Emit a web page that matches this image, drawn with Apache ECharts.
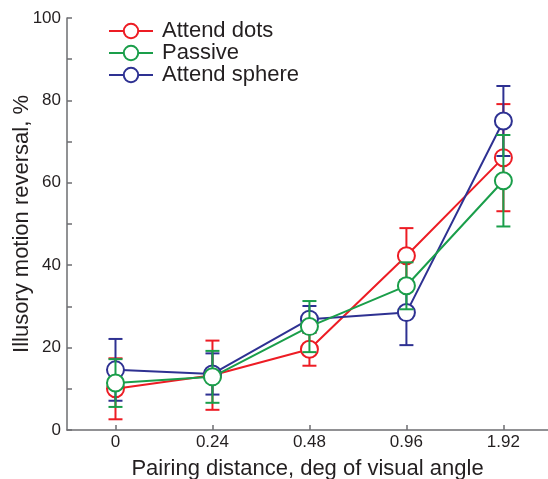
<!DOCTYPE html>
<html>
<head>
<meta charset="utf-8">
<script src="https://cdn.jsdelivr.net/npm/echarts@6/dist/echarts.min.js"></script>
<style>
html,body{margin:0;padding:0;background:#fff;}
#chart{width:548px;height:479px;}
</style>
</head>
<body>
<div id="chart"></div>
<script>
var xLabels = ['0', '0.24', '0.48', '0.96', '1.92'];
var seriesNames = ['Attend dots', 'Passive', 'Attend sphere'];
var attendDots = [10.0, 13.3, 19.6, 42.3, 66.1];
var attendDotsErr = [7.4, 8.4, 4.0, 6.7, 13.0];
var passive = [11.4, 12.9, 25.1, 35.0, 60.5];
var passiveErr = [5.8, 6.3, 6.2, 5.7, 11.1];
var attendSphere = [14.6, 13.6, 26.9, 28.5, 75.0];
var attendSphereErr = [7.5, 5.0, 3.2, 7.9, 8.5];
var yTicks = [0, 20, 40, 60, 80, 100];

var colors = {'Attend dots': '#ed1c24', 'Passive': '#1a9e4a', 'Attend sphere': '#2e3192'};
var FONT = '"Liberation Sans", Arial, Helvetica, sans-serif';

function pts(vals) { return vals.map(function (v, i) { return [i, v]; }); }
function errData(vals, errs) { return vals.map(function (v, i) { return [i, v - errs[i], v + errs[i]]; }); }

function errSeries(name, vals, errs, z) {
  var c = colors[name];
  return {
    type: 'custom',
    name: name + ' err',
    z: z,
    silent: true,
    data: errData(vals, errs),
    encode: {x: 0, y: [1, 2]},
    renderItem: function (params, api) {
      var x = api.value(0);
      var lo = api.coord([x, api.value(1)]);
      var hi = api.coord([x, api.value(2)]);
      var hw = 7;
      var st = {stroke: c, lineWidth: 2};
      return {
        type: 'group',
        children: [
          {type: 'line', shape: {x1: lo[0], y1: lo[1], x2: hi[0], y2: hi[1]}, style: st},
          {type: 'line', shape: {x1: lo[0] - hw, y1: lo[1], x2: lo[0] + hw, y2: lo[1]}, style: st},
          {type: 'line', shape: {x1: hi[0] - hw, y1: hi[1], x2: hi[0] + hw, y2: hi[1]}, style: st}
        ]
      };
    }
  };
}

function lineSeries(name, vals, z) {
  var c = colors[name];
  return {
    type: 'line',
    name: name,
    z: z,
    data: pts(vals),
    symbol: 'circle',
    symbolSize: 17,
    lineStyle: {color: c, width: 2},
    itemStyle: {color: '#fff', borderColor: c, borderWidth: 2},
    emphasis: {disabled: true},
    animation: false
  };
}

var chart = echarts.init(document.getElementById('chart'));
chart.setOption({
  animation: false,
  backgroundColor: '#fff',
  grid: {left: 67, right: 0, top: 18, bottom: 49, containLabel: false, outerBoundsMode: 'none'},
  legend: {
    data: seriesNames,
    orient: 'vertical',
    left: 103,
    top: 15,
    itemWidth: 44,
    itemHeight: 18,
    itemGap: 0,
    textStyle: {fontFamily: FONT, fontSize: 22, color: '#231f20', padding: [0, 0, 0, 4]},
    selectedMode: false
  },
  xAxis: {
    type: 'value',
    min: -0.5,
    max: 4.46,
    name: 'Pairing distance, deg of visual angle',
    nameLocation: 'middle',
    nameGap: 28,
    nameMoveOverlap: false,
    nameTextStyle: {fontFamily: FONT, fontSize: 22, color: '#231f20'},
    axisLine: {show: true, onZero: false, lineStyle: {color: '#6d6e71', width: 1.5}},
    axisTick: {show: true, inside: true, length: 5, customValues: [0, 1, 2, 3, 4], lineStyle: {color: '#6d6e71', width: 1.5}},
    axisLabel: {
      customValues: [0, 1, 2, 3, 4],
      margin: 4,
      fontFamily: FONT, fontSize: 17, color: '#231f20',
      formatter: function (v) { return xLabels[Math.round(v)]; }
    },
    splitLine: {show: false}
  },
  yAxis: {
    type: 'value',
    min: 0,
    max: 100,
    interval: 10,
    name: 'Illusory motion reversal, %',
    nameLocation: 'middle',
    nameGap: 34,
    nameMoveOverlap: false,
    nameRotate: 90,
    nameTextStyle: {fontFamily: FONT, fontSize: 22, color: '#231f20'},
    axisLine: {show: true, onZero: false, lineStyle: {color: '#6d6e71', width: 1.5}},
    axisTick: {show: true, inside: true, length: 5, lineStyle: {color: '#6d6e71', width: 1.5}},
    axisLabel: {
      margin: 6,
      fontFamily: FONT, fontSize: 17, color: '#231f20',
      formatter: function (v) { return yTicks.indexOf(v) >= 0 ? String(v) : ''; }
    },
    splitLine: {show: false}
  },
  series: [
    errSeries('Attend dots', attendDots, attendDotsErr, 2),
    lineSeries('Attend dots', attendDots, 3),
    errSeries('Attend sphere', attendSphere, attendSphereErr, 4),
    lineSeries('Attend sphere', attendSphere, 5),
    errSeries('Passive', passive, passiveErr, 6),
    lineSeries('Passive', passive, 7)
  ]
});
</script>
</body>
</html>
